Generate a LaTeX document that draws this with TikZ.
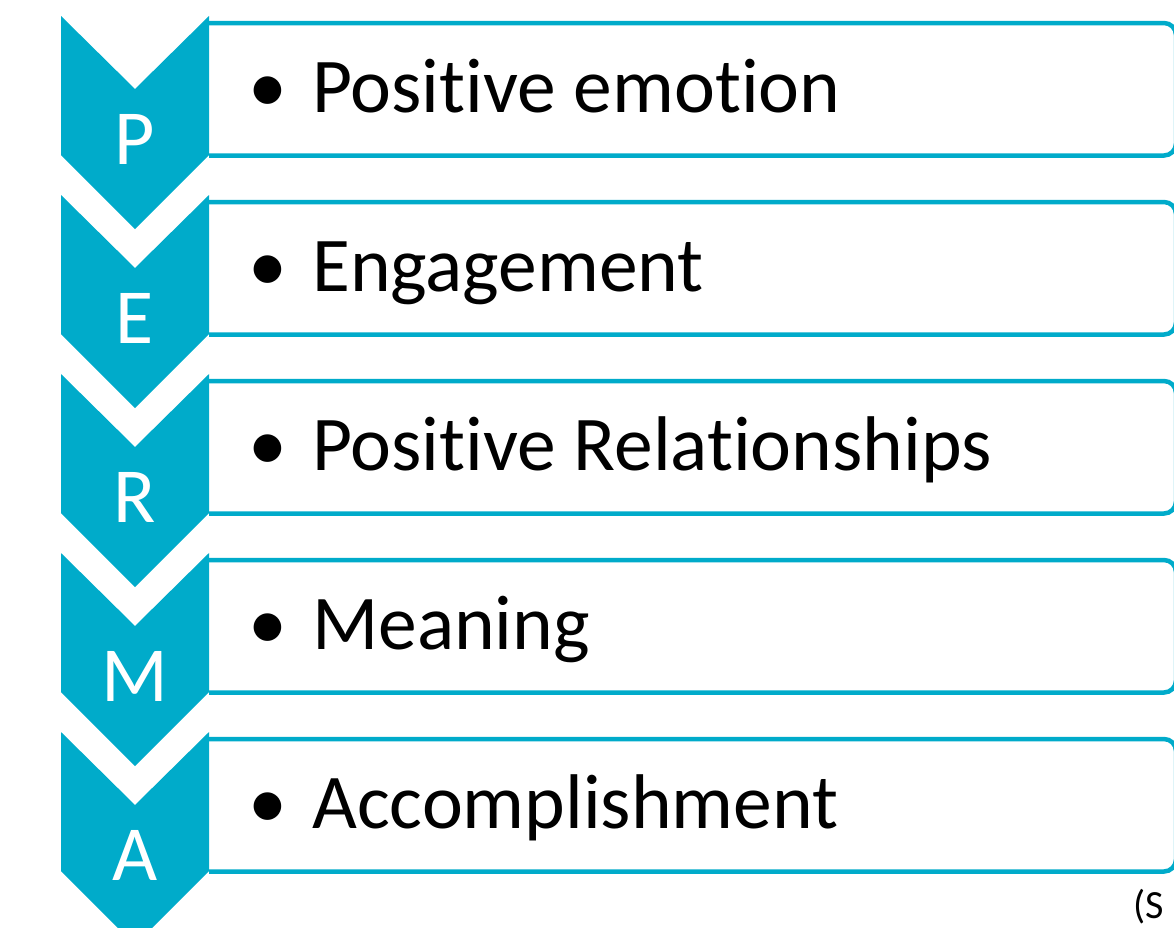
\documentclass[tikz,border=0pt]{standalone}
\usepackage{fontspec}
\setmainfont{Carlito}[Ligatures=NoCommon]
\definecolor{teal1}{RGB}{0,171,202}
\begin{document}
\begin{tikzpicture}[x=1pt,y=-1pt,
  chev/.style={fill=teal1,draw=none},
  itembox/.style={draw=teal1,line width=4.5pt,rounded corners=12pt},
  letter/.style={text=white,font=\fontsize{78}{78}\selectfont,anchor=base,inner sep=0pt},
  bul/.style={font=\fontsize{78}{78}\selectfont,anchor=base,inner sep=0pt},
  itemtext/.style={font=\fontsize{77.5}{77.5}\selectfont,anchor=base west,inner sep=0pt}]
\useasboundingbox (0,0) rectangle (1174,927);
\clip (0,0) rectangle (1174,927);
\foreach \i/\L/\T in {0/P/Positive emotion,1/E/Engagement,2/R/Positive Relationships,3/M/Meaning,4/A/Accomplishment}{
  \pgfmathsetmacro{\t}{16+179*\i}
  \draw[itembox] (209,\t+7) -- (1176,\t+7) -- (1176,\t+139.5) -- (209,\t+139.5);
  \fill[chev] (61,\t) -- (135,\t+73) -- (209,\t) -- (209,\t+139) -- (135,\t+213) -- (61,\t+139) -- cycle;
  \node[letter] (L\i) at (135,\t+148) {\L};
  \node[bul] (B\i) at (268,\t+96) {•};
  \node[itemtext] (T\i) at (312,\t+96) {\T};
}
\node[font=\fontsize{40}{40}\selectfont,anchor=base west,inner sep=0pt] (src) at (1133,918) {(S};
\end{tikzpicture}
\end{document}
